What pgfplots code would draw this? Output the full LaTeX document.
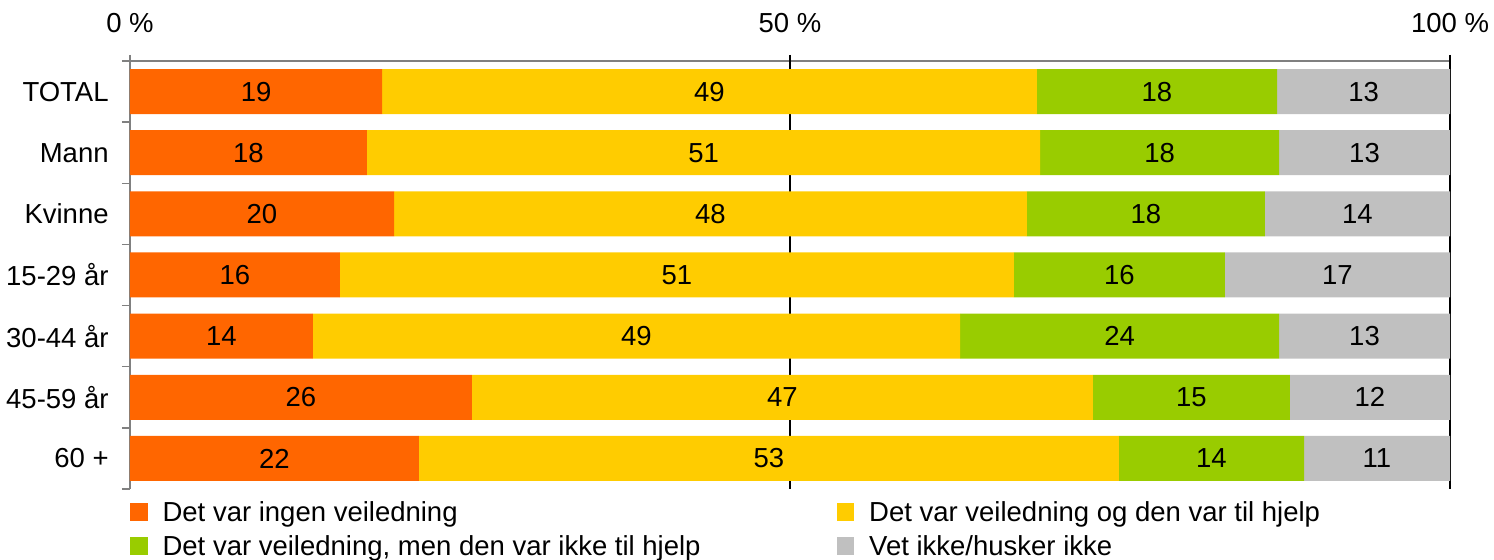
\documentclass[border=0pt]{standalone}
\usepackage{fontspec}
\setmainfont{Liberation Sans}
\usepackage{pgfplots}
\pgfplotsset{compat=1.18}
\usepackage{pgfplotstable}
\definecolor{cOr}{HTML}{FF6600}
\definecolor{cYe}{HTML}{FFCC00}
\definecolor{cGr}{HTML}{99CC00}
\definecolor{cGy}{HTML}{C0C0C0}
\definecolor{axgray}{HTML}{808080}

\pgfplotstableread{
idx o y g n lo ly lg ln
0 19.1 49.6 18.2 13.1 19 49 18 13
1 17.95 51.0 18.1 12.95 18 51 18 13
2 20.0 47.95 18.03 14.02 20 48 18 14
3 15.9 51.06 15.98 17.06 16 51 16 17
4 13.86 49.02 24.17 12.95 14 49 24 13
5 25.9 47.05 14.92 12.13 26 47 15 12
6 21.89 53.03 14.02 11.06 22 53 14 11
}\data

\begin{document}
\begin{tikzpicture}[font=\fontsize{13.75pt}{16.5pt}\selectfont]
\useasboundingbox (0,0) rectangle (747pt,280pt);
\begin{axis}[
 at={(65pt,35.5pt)}, anchor=south west,
 scale only axis, width=660pt, height=214pt,
 xbar stacked, bar width=22.5pt,
 legend image code/.code={\fill[#1] (0pt,-4.4pt) rectangle (8.8pt,4.4pt);},
 xmin=0, xmax=100, ymin=-0.5, ymax=6.5, y dir=reverse,
 enlargelimits=false,
 /pgf/number format/assume math mode=true,
 axis x line=top, axis y line=left,
 axis line style={axgray, line width=0.75pt, -},
 xtick={0,50,100}, xticklabels={0 \%, 50 \%, 100 \%},
 ytick={0,...,6}, yticklabels={TOTAL, Mann, Kvinne, 15-29 år, 30-44 år, 45-59 år, 60 +},
 minor ytick={-0.5,0.5,...,6.5},
 tick align=outside,
 major tick length=3pt, minor tick length=4pt,
 every major y tick/.append style={draw=none},
 every minor y tick/.append style={axgray, line width=0.75pt},
 every major x tick/.append style={axgray, line width=0.75pt},
 extra x ticks={50,100}, extra x tick labels={},
 extra x tick style={grid=major, major grid style={black, line width=0.75pt}, every major x tick/.append style={black}},
 xticklabel style={inner sep=0pt, anchor=base, yshift=11pt},
 yticklabel style={inner sep=0pt, anchor=east, xshift=-7.5pt},
 nodes near coords={\pgfmathprintnumber[assume math mode=true]{\pgfplotspointmeta}},
 every node near coord/.append style={anchor=center, black},
 legend columns=2,
 legend cell align=left,
 legend style={at={(axis description cs:0,0)}, anchor=north west, yshift=-4.3pt,
   draw=none, fill=none, inner sep=0pt, outer sep=0pt, row sep=2.4pt,
   nodes={inner sep=0pt, text height=12.2pt, text depth=2.4pt},
   /tikz/every odd column/.append style={column sep=7.5pt}},
]
\addplot[fill=cOr, draw=none, point meta=explicit] table[x=o, y=idx, meta=lo] {\data};
\addlegendentry{\makebox[337pt][l]{Det var ingen veiledning}}
\addplot[fill=cYe, draw=none, point meta=explicit] table[x=y, y=idx, meta=ly] {\data};
\addlegendentry{\makebox[250pt][l]{Det var veiledning og den var til hjelp}}
\addplot[fill=cGr, draw=none, point meta=explicit] table[x=g, y=idx, meta=lg] {\data};
\addlegendentry{\makebox[337pt][l]{Det var veiledning, men den var ikke til hjelp}}
\addplot[fill=cGy, draw=none, point meta=explicit] table[x=n, y=idx, meta=ln] {\data};
\addlegendentry{\makebox[250pt][l]{Vet ikke/husker ikke}}
\end{axis}
\end{tikzpicture}
\end{document}
